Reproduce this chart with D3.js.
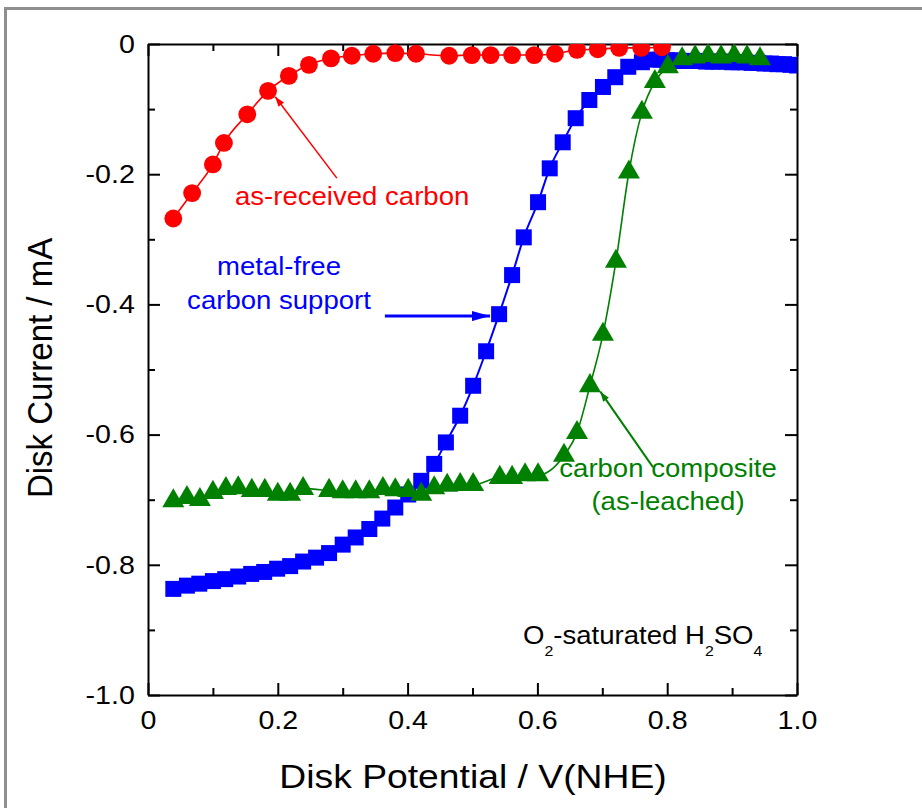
<!DOCTYPE html>
<html>
<head>
<meta charset="utf-8">
<script src="https://cdn.jsdelivr.net/npm/d3@7"></script>
<style>
  html, body { margin: 0; padding: 0; background: #fff; overflow: hidden; }
  svg { display: block; }
</style>
</head>
<body>
<svg id="chart" width="922" height="808"></svg>
<script>
// Disk potential (V vs NHE) and disk current (mA) for each sample.
const receivedV = [0.039, 0.068, 0.100, 0.117, 0.153, 0.185, 0.217, 0.248, 0.282, 0.314, 0.347, 0.381,
                   0.413, 0.464, 0.499, 0.528, 0.561, 0.595, 0.627, 0.661, 0.693, 0.726, 0.760, 0.792];
const receivedI = [-0.268, -0.229, -0.185, -0.152, -0.108, -0.072, -0.049, -0.032, -0.022, -0.018, -0.015, -0.014,
                   -0.015, -0.018, -0.017, -0.017, -0.017, -0.017, -0.015, -0.009, -0.008, -0.006, -0.006, -0.005];

const supportV = [0.039, 0.060, 0.079, 0.100, 0.119, 0.139, 0.159, 0.179, 0.199, 0.219, 0.239, 0.259,
                  0.279, 0.300, 0.320, 0.341, 0.361, 0.381, 0.401, 0.421, 0.441, 0.459, 0.481, 0.501,
                  0.521, 0.541, 0.561, 0.579, 0.601, 0.619, 0.639, 0.659, 0.680, 0.701, 0.720, 0.740,
                  0.761, 0.781, 0.79, 0.80, 0.81, 0.82, 0.83, 0.84, 0.85, 0.86, 0.87, 0.88, 0.89, 0.90,
                  0.91, 0.92, 0.93, 0.94, 0.95, 0.96, 0.97, 0.98, 0.99, 1.00];
const supportI = [-0.837, -0.832, -0.829, -0.825, -0.822, -0.818, -0.814, -0.811, -0.806, -0.802, -0.795, -0.789,
                  -0.782, -0.769, -0.758, -0.745, -0.729, -0.712, -0.692, -0.671, -0.645, -0.612, -0.571, -0.525,
                  -0.472, -0.415, -0.355, -0.297, -0.243, -0.191, -0.151, -0.114, -0.086, -0.066, -0.051, -0.035,
                  -0.028, -0.024, -0.024, -0.025, -0.025, -0.026, -0.026, -0.026, -0.026, -0.027, -0.027, -0.027,
                  -0.027, -0.028, -0.028, -0.028, -0.029, -0.029, -0.030, -0.030, -0.031, -0.031, -0.032, -0.033];

const compositeV = [0.039, 0.060, 0.080, 0.100, 0.120, 0.139, 0.160, 0.180, 0.200, 0.219, 0.239, 0.279,
                    0.300, 0.320, 0.341, 0.362, 0.381, 0.401, 0.421, 0.441, 0.461, 0.481, 0.501, 0.542,
                    0.561, 0.581, 0.601, 0.641, 0.661, 0.681, 0.701, 0.721, 0.741, 0.761, 0.781, 0.801,
                    0.823, 0.843, 0.863, 0.883, 0.903, 0.923, 0.943];
const compositeI = [-0.702, -0.697, -0.700, -0.689, -0.683, -0.682, -0.686, -0.686, -0.692, -0.692, -0.683, -0.686,
                    -0.688, -0.688, -0.688, -0.683, -0.685, -0.686, -0.692, -0.682, -0.678, -0.677, -0.677, -0.666,
                    -0.666, -0.662, -0.662, -0.632, -0.597, -0.525, -0.446, -0.334, -0.197, -0.105, -0.058, -0.035,
                    -0.023, -0.020, -0.018, -0.020, -0.018, -0.020, -0.023];

const xTicks = [0, 0.2, 0.4, 0.6, 0.8, 1.0];
const xTickLabels = ["0", "0.2", "0.4", "0.6", "0.8", "1.0"];
const xMinorTicks = [0.1, 0.3, 0.5, 0.7, 0.9];
const yTicks = [0, -0.2, -0.4, -0.6, -0.8, -1.0];
const yTickLabels = ["0", "-0.2", "-0.4", "-0.6", "-0.8", "-1.0"];
const yMinorTicks = [-0.1, -0.3, -0.5, -0.7, -0.9];

const FONT = "'Liberation Sans', Arial, Helvetica, sans-serif";
const RED = "#ff0000", BLUE = "#0000ff", GREEN = "#008000";

const svg = d3.select("#chart");
const plot = { left: 148, right: 797, top: 44, bottom: 695 };

const x = d3.scaleLinear().domain([0, 1]).range([plot.left, plot.right]);
const y = d3.scaleLinear().domain([-1, 0]).range([plot.bottom, plot.top]);

// outer frame (open on the right and bottom)
svg.append("rect")
  .attr("x", 5.5).attr("y", 8.5)
  .attr("width", 960).attr("height", 860)
  .attr("fill", "none").attr("stroke", "#8f8f8f").attr("stroke-width", 3);

const defs = svg.append("defs");
defs.append("clipPath").attr("id", "plot-clip")
  .append("rect")
  .attr("x", plot.left).attr("y", plot.top)
  .attr("width", plot.right - plot.left).attr("height", plot.bottom - plot.top);

function arrowMarker(id, color, len, wid) {
  defs.append("marker")
    .attr("id", id)
    .attr("markerUnits", "userSpaceOnUse")
    .attr("markerWidth", len).attr("markerHeight", wid)
    .attr("refX", len).attr("refY", wid / 2)
    .attr("orient", "auto")
    .append("path")
    .attr("d", `M0,0L${len},${wid / 2}L0,${wid}Z`)
    .attr("fill", color);
}
arrowMarker("head-red", RED, 10, 7);
arrowMarker("head-blue", BLUE, 18, 10);
arrowMarker("head-green", GREEN, 10, 7);

// ---- axes: major + minor ticks on all four sides, pointing inward ----
function styleAxis(g, keepDomain) {
  g.attr("font-family", FONT);
  if (keepDomain) g.select("path.domain").attr("stroke", "#000").attr("stroke-width", 2);
  else g.select("path.domain").remove();
  g.selectAll(".tick line").attr("stroke", "#000").attr("stroke-width", 2);
}

const gx = svg.append("g").attr("transform", `translate(0,${plot.bottom})`)
  .call(d3.axisBottom(x).tickValues(xTicks).tickFormat((d, i) => xTickLabels[i])
    .tickSize(-12).tickSizeOuter(0).tickPadding(16));
styleAxis(gx, true);
gx.selectAll(".tick text").attr("font-size", 26).attr("fill", "#000")
  .attr("transform", "scale(1.1,1)");

svg.append("g").attr("transform", `translate(0,${plot.bottom})`)
  .call(d3.axisBottom(x).tickValues(xMinorTicks).tickFormat("").tickSize(-7))
  .call(g => styleAxis(g, false));

const gy = svg.append("g").attr("transform", `translate(${plot.left},0)`)
  .call(d3.axisLeft(y).tickValues(yTicks).tickFormat((d, i) => yTickLabels[i])
    .tickSize(-12).tickSizeOuter(0).tickPadding(12));
styleAxis(gy, true);
gy.selectAll(".tick text").attr("font-size", 26).attr("fill", "#000")
  .attr("transform", "scale(1.1,1)");

svg.append("g").attr("transform", `translate(${plot.left},0)`)
  .call(d3.axisLeft(y).tickValues(yMinorTicks).tickFormat("").tickSize(-7))
  .call(g => styleAxis(g, false));

svg.append("g").attr("transform", `translate(0,${plot.top})`)
  .call(d3.axisTop(x).tickValues(xTicks).tickFormat("").tickSize(-12).tickSizeOuter(0))
  .call(g => styleAxis(g, true));
svg.append("g").attr("transform", `translate(0,${plot.top})`)
  .call(d3.axisTop(x).tickValues(xMinorTicks).tickFormat("").tickSize(-7))
  .call(g => styleAxis(g, false));

svg.append("g").attr("transform", `translate(${plot.right},0)`)
  .call(d3.axisRight(y).tickValues(yTicks).tickFormat("").tickSize(-12).tickSizeOuter(0))
  .call(g => styleAxis(g, true));
svg.append("g").attr("transform", `translate(${plot.right},0)`)
  .call(d3.axisRight(y).tickValues(yMinorTicks).tickFormat("").tickSize(-7))
  .call(g => styleAxis(g, false));

// axis titles
svg.append("text")
  .attr("transform", `translate(473,788) scale(1.13,1)`)
  .attr("text-anchor", "middle")
  .attr("font-family", FONT).attr("font-size", 33).attr("fill", "#000")
  .text("Disk Potential / V(NHE)");

svg.append("text")
  .attr("transform", `translate(52,368) scale(1.08,1) rotate(-90)`)
  .attr("text-anchor", "middle")
  .attr("font-family", FONT).attr("font-size", 33).attr("fill", "#000")
  .text("Disk Current / mA");

// ---- data series ----
const series = [
  { v: supportV, i: supportI, color: BLUE, width: 2, symbol: d3.symbolSquare, size: 256 },
  { v: compositeV, i: compositeI, color: GREEN, width: 1.6, symbol: d3.symbolTriangle, size: 210 },
  { v: receivedV, i: receivedI, color: RED, width: 1.6, symbol: d3.symbolCircle, size: 250 }
];

const dataLayer = svg.append("g").attr("clip-path", "url(#plot-clip)");
const line = d3.line().x(d => x(d[0])).y(d => y(d[1])).curve(d3.curveMonotoneX);

series.forEach(s => {
  const pts = s.v.map((v, k) => [v, s.i[k]]);
  const g = dataLayer.append("g");
  g.append("path").datum(pts)
    .attr("d", line)
    .attr("fill", "none").attr("stroke", s.color).attr("stroke-width", s.width);
  g.selectAll("path.pt").data(pts).join("path")
    .attr("class", "pt")
    .attr("transform", d => `translate(${x(d[0])},${y(d[1])})`)
    .attr("d", d3.symbol().type(s.symbol).size(s.size))
    .attr("fill", s.color);
});

// ---- annotations ----
function arrow(from, to, color, width, head) {
  svg.append("line")
    .attr("x1", x(from[0])).attr("y1", y(from[1]))
    .attr("x2", x(to[0])).attr("y2", y(to[1]))
    .attr("stroke", color).attr("stroke-width", width)
    .attr("marker-end", `url(#${head})`);
}
function note(lines, px, py, anchor, color, size, lineGap) {
  lines.forEach((t, k) => {
    svg.append("text")
      .attr("transform", `translate(${px},${py + k * lineGap}) scale(1.06,1)`)
      .attr("text-anchor", anchor)
      .attr("font-family", FONT).attr("font-size", size).attr("fill", color)
      .text(t);
  });
}

arrow([0.291, -0.206], [0.196, -0.081], RED, 1.5, "head-red");
note(["as-received carbon"], 235, 205, "start", RED, 26, 0);

arrow([0.365, -0.418], [0.527, -0.418], BLUE, 3, "head-blue");
note(["metal-free", "carbon support"], 279, 275, "middle", BLUE, 26, 34);

arrow([0.778, -0.650], [0.697, -0.534], GREEN, 2, "head-green");
note(["carbon composite", "(as-leached)"], 668, 477, "middle", GREEN, 26, 33);

// electrolyte label with subscripts
const elec = svg.append("text")
  .attr("transform", "translate(523,644) scale(1.06,1)")
  .attr("font-family", FONT).attr("font-size", 26).attr("fill", "#000");
[["O", 0], ["2", 1], ["-saturated H", 0], ["2", 1], ["SO", 0], ["4", 1]].forEach(([t, sub], k, arr) => {
  const prevSub = k > 0 ? arr[k - 1][1] : 0;
  const ts = elec.append("tspan").text(t);
  if (sub) ts.attr("font-size", 15).attr("dy", 12);
  else if (prevSub) ts.attr("dy", -12);
});
</script>
</body>
</html>
